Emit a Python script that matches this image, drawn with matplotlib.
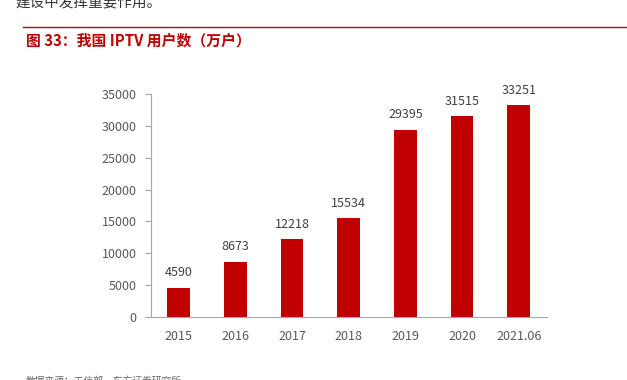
import matplotlib.pyplot as plt

plt.rcParams['font.family'] = ['Noto Sans CJK SC', 'DejaVu Sans']

years = ['2015', '2016', '2017', '2018', '2019', '2020', '2021.06']
users = [4590, 8673, 12218, 15534, 29395, 31515, 33251]

W, H = 627, 380
fig = plt.figure(figsize=(W / 100, H / 100), dpi=100)

# page fragments around the chart
fig.text(15 / W, 1 - 3 / H, '建设中发挥重要作用。', fontsize=10.5, color='#333333', va='center')
fig.add_artist(plt.Line2D([23 / W, 1], [1 - 27 / H, 1 - 27 / H], color='#C00000', lw=1))
fig.text(26 / W, 1 - 41 / H, '图 33：我国 IPTV 用户数（万户）', fontsize=10.7, color='#C00000',
         fontweight='bold', va='center')
fig.text(26 / W, 1 - 381 / H, '数据来源：工信部，东方证券研究所', fontsize=7, color='#666666', va='center')

ax = fig.add_axes([150.5 / W, 1 - 317 / H, (547 - 150.5) / W, (317 - 94) / H])
x = range(len(years))
bars = ax.bar(x, users, width=0.4, color='#C00000')
for xi, v in zip(x, users):
    ax.text(xi, v + 1300, str(v), ha='center', va='bottom', fontsize=9, color='#404040')

ax.set_xlim(-0.5, len(years) - 0.5)
ax.set_ylim(0, 35000)
ax.set_yticks(range(0, 35001, 5000))
ax.set_xticks(list(x))
ax.set_xticklabels(years)
for s in ['top', 'right']:
    ax.spines[s].set_visible(False)
for s in ['left', 'bottom']:
    ax.spines[s].set_color('#A6A6A6')
    ax.spines[s].set_linewidth(0.8)
ax.tick_params(axis='y', length=4, color='#A6A6A6', labelsize=9, labelcolor='#595959', pad=6)
ax.tick_params(axis='x', length=0, labelsize=9, labelcolor='#595959', pad=9)

fig.savefig('out.png', dpi=100)
